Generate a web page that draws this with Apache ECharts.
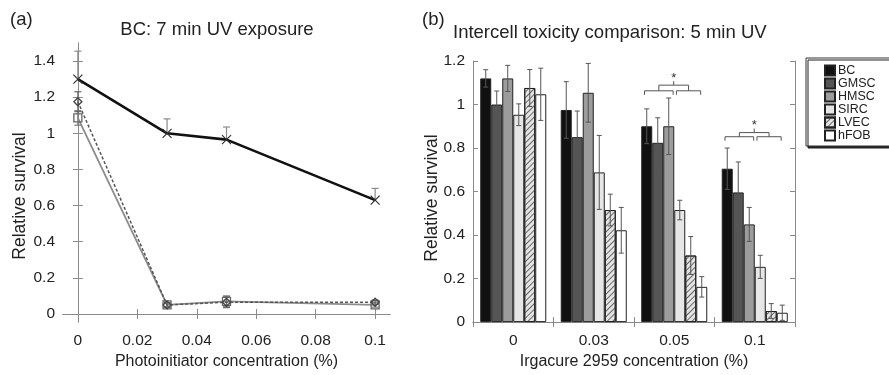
<!DOCTYPE html>
<html><head><meta charset="utf-8">
<script src="https://cdn.jsdelivr.net/npm/echarts@6/dist/echarts.min.js"></script>
<style>html,body{margin:0;padding:0;background:#fff}#c{width:889px;height:375px}</style>
</head><body><div id="c"></div>
<script>
// ---------- Panel (a) data ----------
const concA = [0, 0.03, 0.05, 0.1];
const bcMean = [1.30, 1.00, 0.965, 0.63];
const bcErrUp = [0.155, 0.08, 0.07, 0.065];
const sqMean = [1.085, 0.05, 0.07, 0.05];
const sqErr = [0.04, 0.012, 0.03, 0.012];
const dmMean = [1.175, 0.05, 0.065, 0.065];
const dmErr = [0.055, 0.012, 0.03, 0.012];
const xTicksA = [0, 0.02, 0.04, 0.06, 0.08, 0.1];
const yTicksA = [0, 0.2, 0.4, 0.6, 0.8, 1, 1.2, 1.4];

// ---------- Panel (b) data ----------
const catsB = ['0', '0.03', '0.05', '0.1'];
const cellNames = ['BC', 'GMSC', 'HMSC', 'SIRC', 'LVEC', 'hFOB'];
const valBC   = [1.12, 0.975, 0.90, 0.705];
const valGMSC = [1.00, 0.85, 0.824, 0.596];
const valHMSC = [1.12, 1.054, 0.90, 0.449];
const valSIRC = [0.953, 0.688, 0.515, 0.254];
const valLVEC = [1.076, 0.515, 0.306, 0.051];
const valHFOB = [1.047, 0.422, 0.162, 0.043];
const errBC   = [0.04, 0.13, 0.08, 0.095];
const errGMSC = [0.062, 0.12, 0.115, 0.14];
const errHMSC = [0.06, 0.135, 0.13, 0.078];
const errSIRC = [0.05, 0.17, 0.045, 0.053];
const errLVEC = [0.085, 0.073, 0.087, 0.034];
const errHFOB = [0.12, 0.105, 0.047, 0.035];
const sigGroup = [2, 3];
const sigLowY = [1.063, 0.852];
const sigTopY = [1.089, 0.871];

const FONT = 'Liberation Sans';
const AX = '#8a8a8a';
const TXT = '#222';

const valsB = [valBC, valGMSC, valHMSC, valSIRC, valLVEC, valHFOB];
const errsB = [errBC, errGMSC, errHMSC, errSIRC, errLVEC, errHFOB];
const fillB = ['#111111', '#555555', '#9c9c9c', '#e6e6e6', '#e4e4e4', '#ffffff'];
const CAT_GAP = 0.18;

const chart = echarts.init(document.getElementById('c'), null, {renderer: 'canvas'});

function errRenderA(color) {
  return function (params, api) {
    const x = api.value(0), lo = api.value(1), hi = api.value(2), capLo = api.value(3);
    const p1 = api.coord([x, lo]), p2 = api.coord([x, hi]);
    const cw = 3.5;
    const st = {stroke: color, lineWidth: 1.2};
    const ch = [
      {type: 'line', shape: {x1: p1[0], y1: p1[1], x2: p2[0], y2: p2[1]}, style: st},
      {type: 'line', shape: {x1: p2[0] - cw, y1: p2[1], x2: p2[0] + cw, y2: p2[1]}, style: st}
    ];
    if (capLo) ch.push({type: 'line', shape: {x1: p1[0] - cw, y1: p1[1], x2: p1[0] + cw, y2: p1[1]}, style: st});
    return {type: 'group', children: ch};
  };
}

function barX(api, cat, barPos) {
  const band = api.size([1, 0])[0];
  const bw = band * (1 - CAT_GAP) / 6;
  const c = api.coord([cat, 0])[0];
  return {x: c - 3 * bw + (barPos + 0.5) * bw, bw: bw};
}

function errRenderB(params, api) {
  const cat = api.value(0), bi = api.value(1), lo = api.value(2), hi = api.value(3);
  const bx = barX(api, cat, bi);
  const y1 = api.coord([cat, lo])[1], y2 = api.coord([cat, hi])[1];
  const cw = 2.5;
  const st = {stroke: '#555', lineWidth: 1};
  return {type: 'group', children: [
    {type: 'line', shape: {x1: bx.x, y1: y1, x2: bx.x, y2: y2}, style: st},
    {type: 'line', shape: {x1: bx.x - cw, y1: y2, x2: bx.x + cw, y2: y2}, style: st},
    {type: 'line', shape: {x1: bx.x - cw, y1: y1, x2: bx.x + cw, y2: y1}, style: st}
  ]};
}

function sigRender(params, api) {
  const cat = api.value(0), lowV = api.value(1), topV = api.value(2);
  const yl = api.coord([cat, lowV])[1];
  const yt = api.coord([cat, topV])[1];
  const drop = 4;
  const L0 = barX(api, cat, -0.2).x, L1 = barX(api, cat, 2.4).x;
  const R0 = barX(api, cat, 2.7).x, R1 = barX(api, cat, 4.9).x;
  const lm = (L0 + L1) / 2, rm = (R0 + R1) / 2, tm = (lm + rm) / 2;
  const st = {stroke: '#555', lineWidth: 1, fill: null};
  return {type: 'group', children: [
    {type: 'polyline', shape: {points: [[L0, yl + drop], [L0, yl], [L1, yl], [L1, yl + drop]]}, style: st},
    {type: 'polyline', shape: {points: [[R0, yl + drop], [R0, yl], [R1, yl], [R1, yl + drop]]}, style: st},
    {type: 'line', shape: {x1: lm, y1: yl, x2: lm, y2: yt}, style: st},
    {type: 'line', shape: {x1: rm, y1: yl, x2: rm, y2: yt}, style: st},
    {type: 'line', shape: {x1: lm, y1: yt, x2: rm, y2: yt}, style: st},
    {type: 'line', shape: {x1: tm, y1: yt, x2: tm, y2: yt - 4}, style: st},
    {type: 'text', style: {text: '*', x: tm, y: yt - 7, fontSize: 13, fontFamily: FONT, fill: '#333', align: 'center', verticalAlign: 'middle'}}
  ]};
}

const tickIn = {show: true, inside: true, length: 5, lineStyle: {color: AX}};
const lineAx = {show: true, lineStyle: {color: AX, width: 1}};
const lblStyle = {color: TXT, fontFamily: FONT, fontSize: 15.5};
const nameStyle = {color: TXT, fontFamily: FONT, fontSize: 16};

const series = [];
// Panel (a) lines
series.push({
  type: 'line', xAxisIndex: 0, yAxisIndex: 0, data: concA.map((x, i) => [x, sqMean[i]]),
  lineStyle: {color: '#8c8c8c', width: 1.8}, symbol: 'rect', symbolSize: 8,
  itemStyle: {color: 'rgba(255,255,255,0)', borderColor: '#666', borderWidth: 1.3}, z: 3, animation: false
});
series.push({
  type: 'line', xAxisIndex: 0, yAxisIndex: 0, data: concA.map((x, i) => [x, dmMean[i]]),
  lineStyle: {color: '#555', width: 1.5, type: [3, 2]}, symbol: 'diamond', symbolSize: 8,
  itemStyle: {color: 'rgba(255,255,255,0)', borderColor: '#444', borderWidth: 1.3}, z: 3, animation: false
});
series.push({
  type: 'line', xAxisIndex: 0, yAxisIndex: 0, data: concA.map((x, i) => [x, bcMean[i]]),
  lineStyle: {color: '#111', width: 2.6}, symbol: 'path://M0,0L10,10M10,0L0,10', symbolSize: 9,
  itemStyle: {color: 'rgba(255,255,255,0)', borderColor: '#333', borderWidth: 1.2}, z: 4, animation: false
});
series.push({
  type: 'custom', xAxisIndex: 0, yAxisIndex: 0, renderItem: errRenderA('#8a8a8a'), z: 2, animation: false,
  data: concA.map((x, i) => [x, bcMean[i], bcMean[i] + bcErrUp[i], 0])
});
series.push({
  type: 'custom', xAxisIndex: 0, yAxisIndex: 0, renderItem: errRenderA('#777'), z: 2, animation: false,
  data: concA.map((x, i) => [x, sqMean[i] - sqErr[i], sqMean[i] + sqErr[i], 1])
});
series.push({
  type: 'custom', xAxisIndex: 0, yAxisIndex: 0, renderItem: errRenderA('#666'), z: 2, animation: false,
  data: concA.map((x, i) => [x, dmMean[i] - dmErr[i], dmMean[i] + dmErr[i], 1])
});

// Panel (b) bars
cellNames.forEach((nm, k) => {
  const st = {color: fillB[k], borderColor: '#222', borderWidth: 1};
  if (nm === 'LVEC') {
    st.decal = {symbol: 'rect', symbolSize: 1, dashArrayX: [[1, 0]], dashArrayY: [1, 2.5], rotation: -Math.PI / 4, color: '#666'};
  }
  series.push({
    type: 'bar', name: nm, xAxisIndex: 2, yAxisIndex: 2, data: valsB[k],
    barGap: '0%', barCategoryGap: (CAT_GAP * 100) + '%', itemStyle: st, animation: false
  });
});
const errData = [];
cellNames.forEach((nm, k) => {
  catsB.forEach((c, i) => errData.push([i, k, valsB[k][i] - errsB[k][i], valsB[k][i] + errsB[k][i]]));
});
series.push({type: 'custom', xAxisIndex: 2, yAxisIndex: 2, renderItem: errRenderB, data: errData, z: 5, animation: false});
series.push({type: 'custom', xAxisIndex: 2, yAxisIndex: 2, renderItem: sigRender, z: 5, animation: false,
  data: sigGroup.map((g, i) => [g, sigLowY[i], sigTopY[i]])});

const option = {
  backgroundColor: '#fff',
  animation: false,
  textStyle: {fontFamily: FONT},
  grid: [
    {left: 63, top: 43, width: 327, height: 290},
    {left: 473, top: 61, width: 322, height: 270}
  ],
  xAxis: [
    {type: 'value', gridIndex: 0, min: -0.005, max: 0.105, position: 'bottom',
     axisLine: lineAx, splitLine: {show: false},
     axisTick: Object.assign({customValues: xTicksA}, tickIn),
     axisLabel: Object.assign({customValues: xTicksA, margin: 11, formatter: v => String(+v.toFixed(2))}, lblStyle),
     name: 'Photoinitiator concentration (%)', nameLocation: 'middle', nameGap: 28, nameTextStyle: nameStyle},
    {type: 'value', gridIndex: 0, min: -0.005, max: 0.105, position: 'top',
     axisLine: lineAx, splitLine: {show: false},
     axisTick: Object.assign({customValues: xTicksA}, tickIn), axisLabel: {show: false}},
    {type: 'category', gridIndex: 1, data: catsB, position: 'bottom',
     axisLine: lineAx, axisTick: tickIn,
     axisLabel: Object.assign({margin: 11}, lblStyle),
     name: 'Irgacure 2959 concentration (%)', nameLocation: 'middle', nameGap: 27, nameTextStyle: nameStyle},
    {type: 'category', gridIndex: 1, data: catsB, position: 'top',
     axisLine: lineAx, axisTick: tickIn, axisLabel: {show: false}}
  ],
  yAxis: [
    {type: 'value', gridIndex: 0, min: -0.045, max: 1.5, position: 'left',
     axisLine: lineAx, splitLine: {show: false},
     axisTick: Object.assign({customValues: yTicksA}, tickIn),
     axisLabel: Object.assign({customValues: yTicksA, margin: 8, formatter: v => String(+v.toFixed(1))}, lblStyle)},
    {type: 'value', gridIndex: 0, min: -0.045, max: 1.5, position: 'right',
     axisLine: lineAx, splitLine: {show: false},
     axisTick: Object.assign({customValues: yTicksA}, tickIn), axisLabel: {show: false}},
    {type: 'value', gridIndex: 1, min: 0, max: 1.2, interval: 0.2, position: 'left',
     axisLine: lineAx, splitLine: {show: false}, axisTick: tickIn,
     axisLabel: Object.assign({margin: 8, formatter: v => String(+v.toFixed(1))}, lblStyle)},
    {type: 'value', gridIndex: 1, min: 0, max: 1.2, interval: 0.2, position: 'right',
     axisLine: lineAx, splitLine: {show: false}, axisTick: tickIn, axisLabel: {show: false}}
  ],
  legend: {
    data: cellNames, left: 806, top: 58, orient: 'vertical', icon: 'rect',
    itemWidth: 10, itemHeight: 10, itemGap: 0,
    padding: [6, 30, 4, 18],
    backgroundColor: '#fff', borderColor: '#333', borderWidth: 1,
    shadowColor: '#222', shadowOffsetX: 2, shadowOffsetY: 2, shadowBlur: 0,
    textStyle: {color: TXT, fontFamily: FONT, fontSize: 12.5, padding: [0, 0, 0, -2], lineHeight: 10, height: 10},
    selectedMode: false
  },
  graphic: [
    {type: 'text', left: 10, top: 10, style: {text: '(a)', fontSize: 18.5, fontFamily: FONT, fill: TXT}},
    {type: 'text', left: 422, top: 10, style: {text: '(b)', fontSize: 18.5, fontFamily: FONT, fill: TXT}},
    {type: 'text', x: 217, y: 30, style: {text: 'BC: 7 min UV exposure', fontSize: 18.5, fontFamily: FONT, fill: TXT, align: 'center', verticalAlign: 'middle'}},
    {type: 'text', x: 453, y: 33, style: {text: 'Intercell toxicity comparison: 5 min UV', fontSize: 18.5, fontFamily: FONT, fill: TXT, align: 'left', verticalAlign: 'middle'}},
    {type: 'text', x: 20, y: 196, rotation: Math.PI / 2, style: {text: 'Relative survival', fontSize: 17.5, fontFamily: FONT, fill: TXT, align: 'center', verticalAlign: 'middle'}},
    {type: 'text', x: 432, y: 198, rotation: Math.PI / 2, style: {text: 'Relative survival', fontSize: 17.5, fontFamily: FONT, fill: TXT, align: 'center', verticalAlign: 'middle'}}
  ],
  series: series
};
chart.setOption(option);
</script>
</body></html>
